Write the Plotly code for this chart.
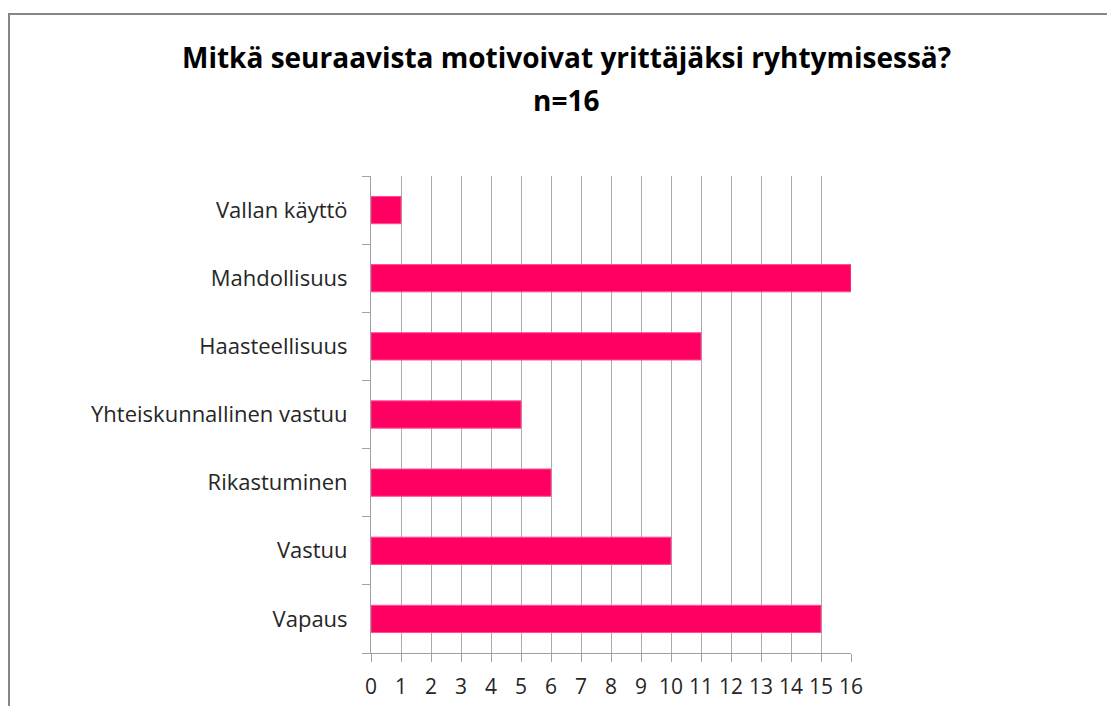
import plotly.graph_objects as go

categories = ["Vapaus", "Vastuu", "Rikastuminen", "Yhteiskunnallinen vastuu",
              "Haasteellisuus", "Mahdollisuus", "Vallan käyttö"]
values = [15, 10, 6, 5, 11, 16, 1]
x_ticks = list(range(0, 17))
title_lines = ["Mitkä seuraavista motivoivat yrittäjäksi ryhtymisessä?", "n=16"]

OFF = 8  # page offset
W, H = 1115, 706
L, R, T, B = 371 - OFF, 851 - OFF, 176 - OFF, 653 - OFF
pw, ph = R - L, B - T

def px_x(p):
    return (p - OFF - L) / pw

def px_y(p):
    return (B - (p - OFF)) / ph

fig = go.Figure(go.Bar(
    x=values, y=categories, orientation="h",
    marker=dict(color="#FF0062", line=dict(color="#FF4D8F", width=1)),
    width=0.4,
))

annotations = []
for txt, yc in zip(title_lines, [57, 100]):
    annotations.append(dict(
        text="<b>%s</b>" % txt, xref="paper", yref="paper",
        x=px_x(566), y=px_y(yc), xanchor="center", yanchor="middle",
        showarrow=False,
        font=dict(size=28, color="#000000", family="Open Sans, sans-serif"),
    ))

fig.update_layout(
    width=W, height=H,
    margin=dict(l=L, r=W - R, t=T, b=H - B),
    paper_bgcolor="white", plot_bgcolor="white",
    showlegend=False,
    font=dict(family="Open Sans, Liberation Sans, sans-serif", color="#262626"),
    annotations=annotations,
    xaxis=dict(
        range=[0, 16], tickvals=x_ticks, ticktext=[str(v) for v in x_ticks],
        showgrid=True, gridcolor="#ABABAB", gridwidth=1,
        showline=True, linecolor="#A0A0A0", linewidth=1,
        ticks="outside", ticklen=8, tickcolor="#A0A0A0",
        tickfont=dict(size=21, color="#262626"),
        ticklabelstandoff=7,
        zeroline=False, fixedrange=True,
    ),
    yaxis=dict(
        categoryorder="array", categoryarray=categories,
        showgrid=False, showline=True, linecolor="#A0A0A0", linewidth=1,
        ticks="outside", ticklen=8, tickcolor="#A0A0A0", tickson="boundaries",
        tickfont=dict(size=22, color="#262626"),
        ticklabelstandoff=18,
        zeroline=False, fixedrange=True,
    ),
    shapes=[dict(
        type="rect", xref="paper", yref="paper",
        x0=px_x(9), x1=px_x(1125), y0=px_y(740), y1=px_y(14),
        line=dict(color="#868686", width=2), fillcolor="rgba(0,0,0,0)",
        layer="below",
    )],
)

fig.write_html("out.html")
